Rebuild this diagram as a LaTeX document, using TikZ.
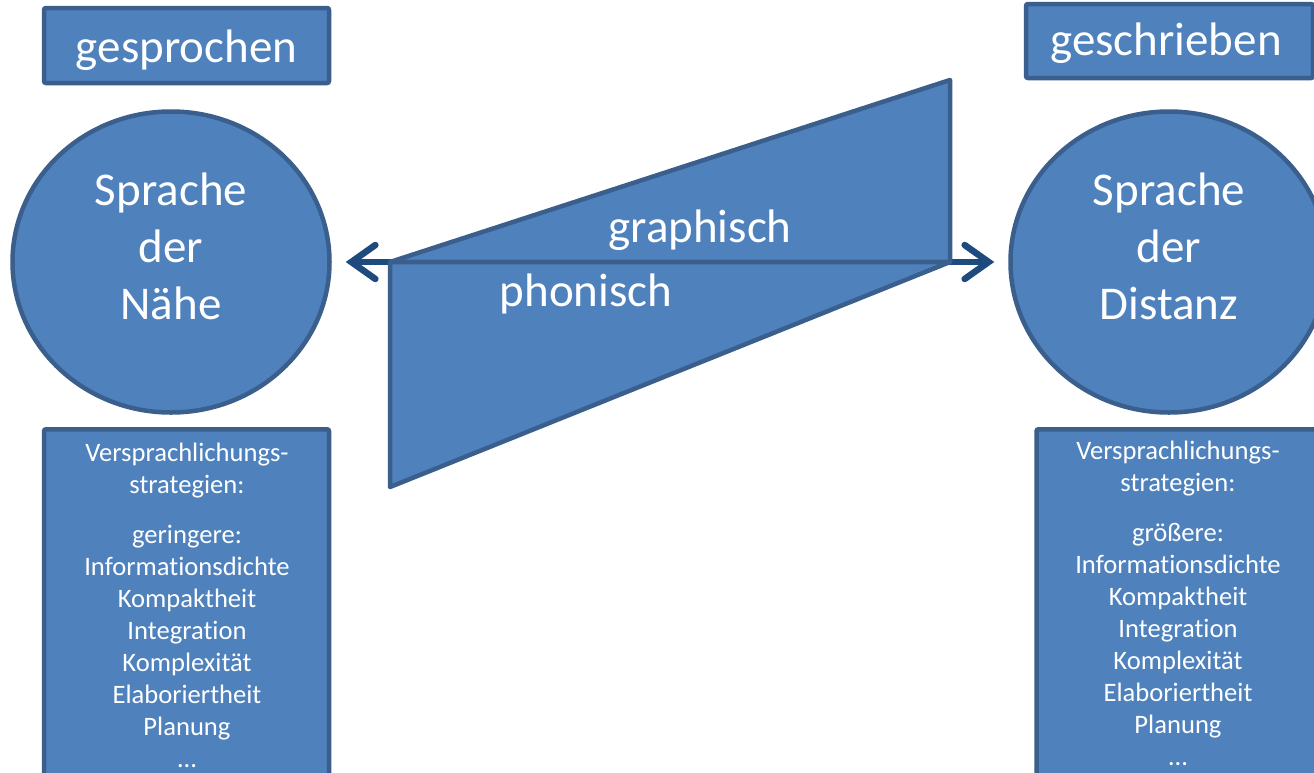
\documentclass[tikz,border=0pt]{standalone}
\usepackage{fontspec}
\setmainfont{Carlito}[Ligatures=NoCommon]
\usetikzlibrary{arrows.meta,shapes.geometric}
\definecolor{fillb}{HTML}{4F81BD}
\definecolor{edgeb}{HTML}{3A5F8D}
\definecolor{arrowb}{HTML}{1F4A7E}
\begin{document}
\begin{tikzpicture}[x=1pt,y=-1pt,
  box/.style={draw=edgeb, fill=fillb, line width=4.5pt, rounded corners=2pt, inner sep=0pt},
  oval/.style={shape=ellipse, draw=edgeb, fill=fillb, line width=4.5pt, inner sep=0pt},
  tri/.style={draw=edgeb, fill=fillb, line width=4.5pt, line join=round},
  big/.style={text=white, font=\fontsize{47}{57}\selectfont, align=center, inner sep=0pt},
  small/.style={text=white, font=\fontsize{26.6}{32}\selectfont, align=center, inner sep=0pt},
  conn/.style={draw=arrowb, line width=6.5pt, {Straight Barb[length=24pt,width=34pt,line cap=round]}-{Straight Barb[length=24pt,width=34pt,line cap=round]}, line cap=round}
]
\useasboundingbox (0,0) rectangle (1314,772);
\clip (0,0) rectangle (1314,772);
\fill[white] (0,0) rectangle (1314,772);

% headers
\node[box, minimum width=285pt, minimum height=75pt] (hl) at (186.5,45.5) {};
\node[big] (hlt) at (186.5,50) {gesprochen};
\node[box, minimum width=287pt, minimum height=74pt] (hr) at (1169.5,41) {};
\node[big] (hrt) at (1166,43) {geschrieben};

% circles
\node[oval, minimum width=317pt, minimum height=301pt] (nah) at (171,262) {};
\node[oval, minimum width=317pt, minimum height=301pt] (dist) at (1169,262) {};

% arrow (behind triangles)
\draw[conn, shorten <=14pt, shorten >=14pt] (nah.east) -- (dist.west);

% triangles
\coordinate (tl) at (390,262);
\coordinate (tr) at (950,262);
\coordinate (tt) at (950,80);
\coordinate (tb) at (390,487);
\path[tri] (tl) -- (tt) -- (tr) -- cycle;
\path[tri] (tl) -- (tr) -- (tb) -- cycle;
\node[big] (gr) at (700,230) {graphisch};
\node[big] (ph) at (586,294) {phonisch};

% circle texts
\node[big] (nt) at (171,246) {Sprache\\der\\Nähe};
\node[big] (dt) at (1169,246) {Sprache\\der\\Distanz};

% lower boxes
\node[box, minimum width=285pt, minimum height=400pt, anchor=north] (bl) at (186.5,427) {};
\node[box, minimum width=287pt, minimum height=400pt, anchor=north] (br) at (1180,427) {};
\node[small, anchor=north] (blt) at (187,443) {Versprachlichungs-\\strategien:\\[18pt]geringere:\\Informationsdichte\\Kompaktheit\\Integration\\Komplexität\\Elaboriertheit\\Planung\\…};
\node[small, anchor=north] (brt) at (1178,441) {Versprachlichungs-\\strategien:\\[18pt]größere:\\Informationsdichte\\Kompaktheit\\Integration\\Komplexität\\Elaboriertheit\\Planung\\…};
\end{tikzpicture}
\end{document}
